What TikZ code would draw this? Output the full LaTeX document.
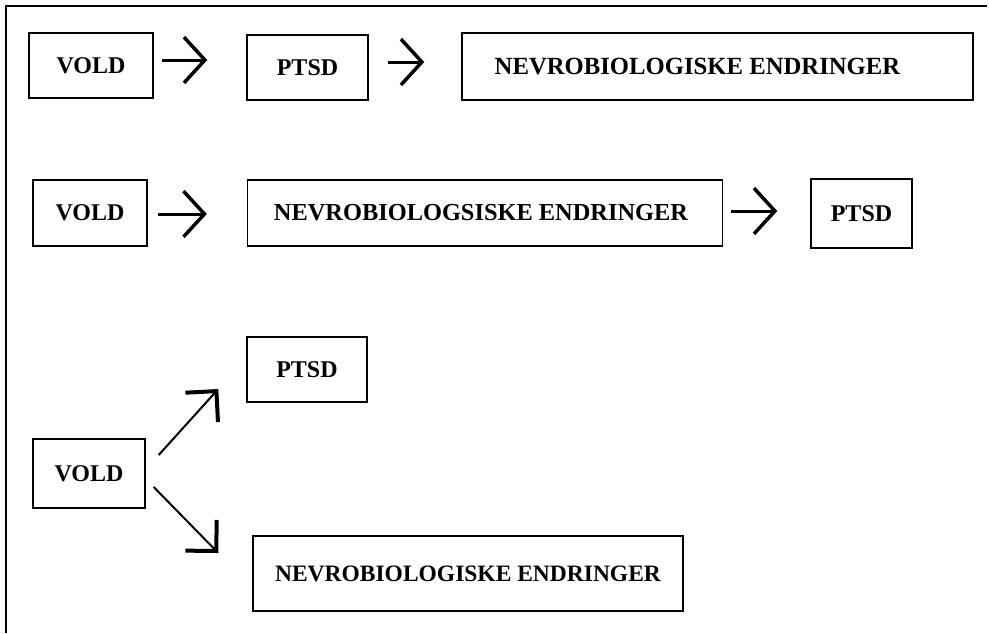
\documentclass[tikz,border=0pt]{standalone}
\usepackage{fontspec}
\setmainfont{Liberation Serif}
\usetikzlibrary{arrows.meta}

\begin{document}
\begin{tikzpicture}[
    x=1pt,
    y=-1pt,
    box/.style={draw, line width=1.4pt, inner sep=0pt,
        font=\fontsize{24}{28}\selectfont\bfseries},
    arr/.style={line width=3pt,
        -{Straight Barb[angle=95:31pt, line width=3.5pt]}},
    diag/.style={line width=2pt,
        -{Straight Barb[angle=90:31pt, line width=4pt]}}
]

\useasboundingbox (0,0) rectangle (989,633);

% Frame
\draw[line width=2pt] (6,633) -- (6,6) -- (987,6);

% Row 1
\node[box, minimum width=124pt, minimum height=65pt] (vold1) at (91,65.5) {VOLD};
\node[box, minimum width=121pt, minimum height=65pt] (ptsd1) at (307.5,67.5) {PTSD};
\node[box, minimum width=511pt, minimum height=67pt,
    font=\fontsize{24.7}{28}\selectfont\bfseries] (nevro1) at (717.5,66.5)
    {NEVROBIOLOGISKE ENDRINGER\hspace*{40pt}};

\draw[arr] ([shift={(8,-5.5)}]vold1.east) -- ([shift={(-39,-7.5)}]ptsd1.west);
\draw[arr] ([shift={(19,-5.5)}]ptsd1.east) -- ([shift={(-37,-4.5)}]nevro1.west);

% Row 2
\node[box, minimum width=114pt, minimum height=66pt] (vold2) at (90,213) {VOLD};
\node[box, minimum width=475pt, minimum height=66pt,
    font=\fontsize{24.4}{28}\selectfont\bfseries] (nevro2) at (485,213)
    {NEVROBIOLOGSISKE ENDRINGER\hspace*{8pt}};
\node[box, minimum width=101pt, minimum height=69pt] (ptsd2) at (861.5,213.5) {PTSD};

\draw[arr] ([shift={(10,1)}]vold2.east) -- ([shift={(-40,1)}]nevro2.west);
\draw[arr] ([shift={(8,-2)}]nevro2.east) -- ([shift={(-33,-2.5)}]ptsd2.west);

% Row 3
\node[box, minimum width=112pt, minimum height=69pt] (vold3) at (89,473.5) {VOLD};
\node[box, minimum width=120pt, minimum height=65pt] (ptsd3) at (307,369.5) {PTSD};
\node[box, minimum width=430pt, minimum height=75pt,
    font=\fontsize{23.5}{28}\selectfont\bfseries] (nevro3) at (468,573.5)
    {NEVROBIOLOGISKE ENDRINGER};

\draw[diag] ([shift={(13,-18.5)}]vold3.east) -- ([shift={(-28,19.5)}]ptsd3.west);
\draw[diag] ([shift={(8,13.5)}]vold3.east) -- ([shift={(-34,-20.5)}]nevro3.west);

\end{tikzpicture}
\end{document}
